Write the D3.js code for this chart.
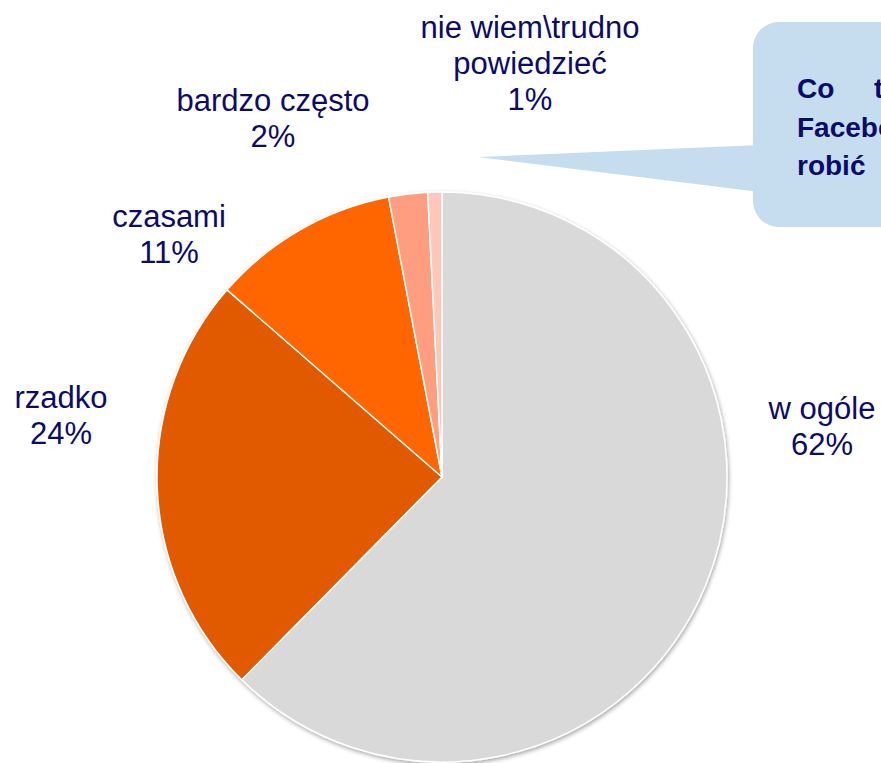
<!DOCTYPE html>
<html>
<head>
<meta charset="utf-8">
<script src="https://cdn.jsdelivr.net/npm/d3@7"></script>
<style>
  html, body { margin: 0; padding: 0; background: #fff; overflow: hidden; }
  svg { display: block; }
</style>
</head>
<body>
<svg id="chart"></svg>
<script>
// slices, clockwise from 12 o'clock
var categories = ['w ogóle', 'rzadko', 'czasami', 'bardzo często', 'nie wiem\\trudno powiedzieć'];
var values = [62.4, 24.0, 10.6, 2.2, 0.8];
var valueLabels = ['62%', '24%', '11%', '2%', '1%'];
var calloutLines = [['Co', 'twoim'], ['Facebook'], ['robić']];

var width = 881, height = 763;
var cx = 442, cy = 477, radius = 285;

var colors = d3.scaleOrdinal()
    .domain(categories)
    .range(['#d9d9d9', '#e25a00', '#ff6600', '#ff9d80', '#ffc6ba']);

// label lines in text boxes, placed like the original slide
var labelBoxes = {
  'w ogóle': {x: 822, y: 408, lines: ['w ogóle']},
  'rzadko': {x: 61, y: 397, lines: ['rzadko']},
  'czasami': {x: 169, y: 216, lines: ['czasami']},
  'bardzo często': {x: 273, y: 100, lines: ['bardzo często']},
  'nie wiem\\trudno powiedzieć': {x: 530, y: 27, lines: ['nie wiem\\trudno', 'powiedzieć']}
};

var svg = d3.select('#chart')
    .attr('width', width)
    .attr('height', height);

var defs = svg.append('defs');
var shadow = defs.append('filter')
    .attr('id', 'shadow')
    .attr('x', '-10%').attr('y', '-10%')
    .attr('width', '120%').attr('height', '120%');
shadow.append('feDropShadow')
    .attr('dx', 1).attr('dy', 2)
    .attr('stdDeviation', 2)
    .attr('flood-color', '#000')
    .attr('flood-opacity', 0.35);

// callout bubble
var callout = svg.append('g');
callout.append('path')
    .attr('d', 'M478,157 L760,145 L760,192 Z')
    .attr('fill', '#c6dcef');
callout.append('rect')
    .attr('x', 753).attr('y', 22)
    .attr('width', 320).attr('height', 205)
    .attr('rx', 26).attr('ry', 26)
    .attr('fill', '#c6dcef');
var ct = callout.append('text')
    .attr('font-family', 'Liberation Sans, Arial, sans-serif')
    .attr('font-weight', 'bold')
    .attr('font-size', 28)
    .attr('fill', '#0b0b6b');
calloutLines.forEach(function(words, i) {
  words.forEach(function(w, j) {
    ct.append('tspan')
        .attr('x', j === 0 ? 797 : 874)
        .attr('y', 98 + i * 38.5)
        .text(w);
  });
});

// pie
var pie = d3.pie().sort(null).value(function(d) { return d.value; });
var arc = d3.arc().innerRadius(0).outerRadius(radius);
var data = categories.map(function(c, i) { return {name: c, value: values[i], label: valueLabels[i]}; });

var g = svg.append('g')
    .attr('transform', 'translate(' + cx + ',' + cy + ')');

g.append('g')
    .attr('filter', 'url(#shadow)')
  .selectAll('path')
  .data(pie(data))
  .join('path')
    .attr('d', arc)
    .attr('fill', function(d) { return colors(d.data.name); })
    .attr('stroke', '#fff')
    .attr('stroke-width', 1.5)
    .attr('stroke-linejoin', 'round');

// labels
var lineH = 36;
data.forEach(function(d) {
  var box = labelBoxes[d.name];
  var t = svg.append('text')
      .attr('text-anchor', 'middle')
      .attr('dominant-baseline', 'central')
      .attr('font-family', 'Liberation Sans, Arial, sans-serif')
      .attr('font-size', 31)
      .attr('fill', '#0b0b6b');
  box.lines.concat([d.label]).forEach(function(s, i) {
    t.append('tspan')
        .attr('x', box.x)
        .attr('y', box.y + i * lineH)
        .text(s);
  });
});
</script>
</body>
</html>
